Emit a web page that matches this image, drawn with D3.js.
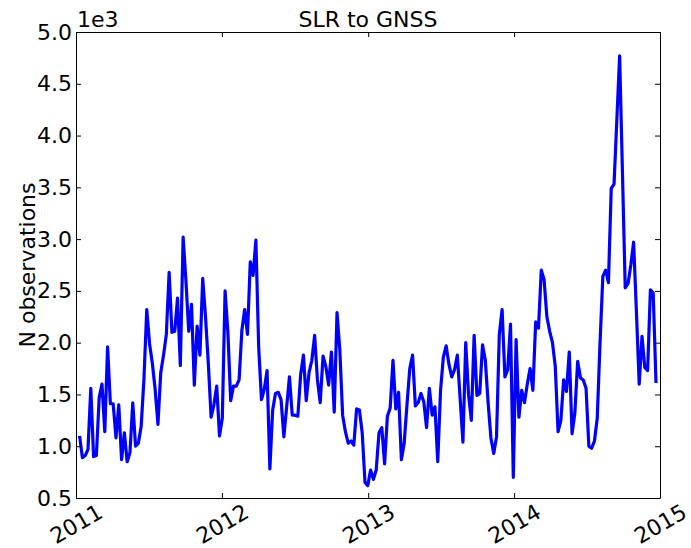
<!DOCTYPE html>
<meta charset="utf-8">
<head>
    <style>
        body { margin: 0; background: #fff; }
        text { font-family: "DejaVu Sans", sans-serif; fill: black; }
        .axis path, .axis line { stroke: black; stroke-width: 1; }
        .axis text { font-size: 22px; }
        .line { fill: none; stroke: #0000ff; stroke-width: 3.2; stroke-linejoin: round; }
    </style>
    <script src="https://d3js.org/d3.v7.min.js"></script>
</head>
<body>
<script>
    // weekly counts, first week starts 2011-01-10
    var startDate = "2011-01-10";
    var values = [
        1100, 890, 910, 970, 1560, 900, 910, 1470, 1600, 1140,
        1960, 1410, 1410, 1080, 1400, 870, 1130, 850, 940, 1420,
        1000, 1030, 1190, 1650, 2320, 1990, 1800, 1550, 1210, 1710,
        1880, 2080, 2680, 2100, 2110, 2430, 1780, 3020, 2600, 2110,
        2370, 1590, 2160, 1880, 2620, 2250, 1800, 1280, 1400, 1580,
        1100, 1270, 2500, 2100, 1440, 1580, 1580, 1640, 2120, 2320,
        2080, 2780, 2650, 2990, 1960, 1450, 1550, 1730, 780, 1350,
        1510, 1520, 1450, 1090, 1380, 1670, 1300, 1300, 1290, 1690,
        1880, 1440, 1710, 1830, 2070, 1640, 1420, 1870, 1770, 1590,
        1910, 1330, 2290, 1930, 1300, 1140, 1030, 1050, 1010, 1360,
        1350, 1130, 650, 620, 770, 680, 770, 1130, 1180, 830,
        1290, 1370, 1830, 1360, 1520, 870, 1030, 1400, 1750, 1880,
        1390, 1420, 1510, 1430, 1180, 1560, 1300, 1380, 850, 1540,
        1860, 1970, 1790, 1670, 1740, 1880, 1460, 1040, 2000, 1500,
        1250, 2070, 1490, 1510, 1980, 1830, 1420, 1080, 930, 1090,
        2080, 2320, 1670, 1740, 2180, 700, 2030, 1280, 1540, 1420,
        1600, 1750, 1540, 2200, 2140, 2700, 2610, 2250, 2110, 2000,
        1770, 1140, 1250, 1640, 1530, 1910, 1120, 1320, 1820, 1660,
        1640, 1560, 1000, 980, 1050, 1270, 2000, 2640, 2700, 2580,
        3490, 3530, 4150, 4770, 3650, 2530, 2570, 2750, 2970, 2300,
        1600, 2060, 1760, 1730, 2510, 2480, 1610
    ];
    var yTicks = [500, 1000, 1500, 2000, 2500, 3000, 3500, 4000, 4500, 5000];
    var xTicks = ["2011-01-01", "2012-01-01", "2013-01-01", "2014-01-01", "2015-01-01"];

    var parse = d3.utcParse("%Y-%m-%d");
    var t0 = parse(startDate);
    var data = values.map(function(v, i) {
        return {date: d3.utcDay.offset(t0, 7 * i), value: v};
    });

    var margin = {top: 32, right: 31, bottom: 50, left: 76},
        width = 691 - margin.left - margin.right,
        height = 548 - margin.top - margin.bottom;

    var x = d3.scaleUtc()
        .domain([parse(xTicks[0]), parse(xTicks[xTicks.length - 1])])
        .range([0, width]);

    var y = d3.scaleLinear()
        .domain([500, 5000])
        .range([height, 0]);

    var svg = d3.select("body").append("svg")
        .attr("width", 691)
        .attr("height", 548);

    var g = svg.append("g")
        .attr("transform", "translate(" + margin.left + "," + margin.top + ")");

    var tickDates = xTicks.map(parse);

    g.append("path")
        .datum(data)
        .attr("class", "line")
        .attr("d", d3.line()
            .x(function(d) { return x(d.date); })
            .y(function(d) { return y(d.value); }));

    // ticks point inwards on all four sides, like old matplotlib
    g.append("g").attr("class", "axis")
        .call(d3.axisLeft(y).tickValues(yTicks).tickSize(-5).tickSizeOuter(0).tickPadding(4)
            .tickFormat(function(d) { return (d / 1000).toFixed(1); }));

    g.append("g").attr("class", "axis")
        .attr("transform", "translate(" + width + ",0)")
        .call(d3.axisRight(y).tickValues(yTicks).tickSize(-5).tickSizeOuter(0).tickFormat(""));

    g.append("g").attr("class", "axis")
        .call(d3.axisTop(x).tickValues(tickDates).tickSize(-5).tickSizeOuter(0).tickFormat(""));

    var xAxis = g.append("g").attr("class", "axis")
        .attr("transform", "translate(0," + height + ")")
        .call(d3.axisBottom(x).tickValues(tickDates).tickSize(-5).tickSizeOuter(0)
            .tickFormat(d3.utcFormat("%Y")));

    xAxis.selectAll("text")
        .attr("y", 0)
        .attr("dy", 0)
        .attr("text-anchor", "middle")
        .attr("dominant-baseline", "central")
        .attr("transform", "translate(0,26) rotate(-30)");

    g.selectAll(".axis .domain").attr("stroke", "black");

    svg.append("text")
        .attr("x", margin.left + width / 2)
        .attr("y", 27)
        .attr("text-anchor", "middle")
        .style("font-size", "22px")
        .text("SLR to GNSS");

    svg.append("text")
        .attr("x", margin.left + 1)
        .attr("y", 27)
        .style("font-size", "22px")
        .text("1e3");

    svg.append("text")
        .attr("transform", "translate(35," + (margin.top + height / 2) + ") rotate(-90)")
        .attr("text-anchor", "middle")
        .style("font-size", "22px")
        .text("N observations");
</script>
</body>
